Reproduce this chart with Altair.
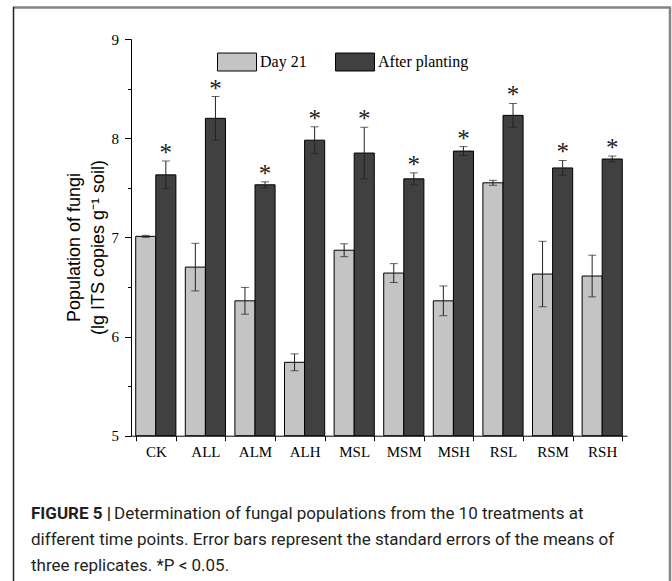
import altair as alt
import pandas as pd

# Treatments and measurements (lg ITS copies per g soil)
treatments = ["CK", "ALL", "ALM", "ALH", "MSL", "MSM", "MSH", "RSL", "RSM", "RSH"]
day21_mean = [7.01, 6.70, 6.36, 5.74, 6.87, 6.64, 6.36, 7.55, 6.63, 6.61]
day21_se = [0.01, 0.24, 0.135, 0.085, 0.065, 0.095, 0.15, 0.025, 0.33, 0.21]
after_mean = [7.63, 8.20, 7.53, 7.98, 7.85, 7.59, 7.87, 8.23, 7.70, 7.79]
after_se = [0.14, 0.22, 0.03, 0.135, 0.26, 0.06, 0.045, 0.12, 0.075, 0.03]
significant = ["*"] * 10
series_names = ["Day 21", "After planting"]
series_colors = ["#c4c4c4", "#404040"]

rows = []
for i, t in enumerate(treatments):
    rows.append({"treatment": t, "series": series_names[0], "mean": day21_mean[i],
                 "lo": day21_mean[i] - day21_se[i], "hi": day21_mean[i] + day21_se[i], "sig": ""})
    rows.append({"treatment": t, "series": series_names[1], "mean": after_mean[i],
                 "lo": after_mean[i] - after_se[i], "hi": after_mean[i] + after_se[i], "sig": significant[i]})
df = pd.DataFrame(rows)

W, H = 496, 396.7
PAD_L, PAD_T = 131, 39
SERIF = "Liberation Serif"

x_enc = alt.X("treatment:N", sort=treatments,
              scale=alt.Scale(paddingInner=0.19, paddingOuter=0.095),
              axis=alt.Axis(title=None, labelAngle=0, tickBand="extent", tickSize=5,
                            labelPadding=4, labelFontSize=15, labelFont=SERIF))
xoff = alt.XOffset("series:N", sort=series_names)
y_scale = alt.Scale(domain=[5, 9], nice=False, zero=False)

bars = alt.Chart(df).mark_bar(stroke="black", strokeWidth=1).encode(
    x=x_enc,
    xOffset=xoff,
    y=alt.Y("mean:Q", scale=y_scale,
            axis=alt.Axis(values=[5, 5.5, 6, 6.5, 7, 7.5, 8, 8.5, 9],
                          labelExpr="datum.value % 1 ? '' : format(datum.value, 'd')",
                          tickSize={"expr": "datum.value % 1 ? 3.5 : 6.5"},
                          labelPadding=6, labelFontSize=15, labelFont=SERIF,
                          title=["Population of fungi", "(lg ITS copies g\u207b\u00b9 soil)"],
                          titleFont="Liberation Sans", titleFontSize=18,
                          titleFontWeight="normal", titleLineHeight=24,
                          titlePadding=4, titleY=208)),
    y2=alt.datum(5),
    color=alt.Color("series:N", sort=series_names,
                    scale=alt.Scale(domain=series_names, range=series_colors),
                    legend=alt.Legend(title=None, orient="none", direction="horizontal",
                                      legendX=86, legendY=3, padding=0,
                                      symbolType="M-1,-0.46H1V0.46H-1Z", symbolSize=1521,
                                      symbolStrokeColor="black", symbolStrokeWidth=1,
                                      symbolOpacity=1, labelFont=SERIF,
                                      labelFontSize=16, labelColor="black",
                                      labelOffset=3, columnPadding=26)),
)

err = alt.Chart(df).mark_rule(color="#222", strokeWidth=1).encode(
    x=alt.X("treatment:N", sort=treatments), xOffset=xoff,
    y="lo:Q", y2="hi:Q")
cap_lo = alt.Chart(df).mark_tick(color="#222", thickness=1, size=8).encode(
    x=alt.X("treatment:N", sort=treatments), xOffset=xoff, y="lo:Q")
cap_hi = alt.Chart(df).mark_tick(color="#222", thickness=1, size=8).encode(
    x=alt.X("treatment:N", sort=treatments), xOffset=xoff, y="hi:Q")
stars = alt.Chart(df).mark_text(font=SERIF, fontSize=25, baseline="alphabetic",
                                dy=0, color="#222").encode(
    x=alt.X("treatment:N", sort=treatments), xOffset=xoff, y="hi:Q", text="sig:N")

# Figure frame around plot and caption
frame_df = pd.DataFrame({"k": [0]})
frame_top = alt.Chart(frame_df).mark_rule(color="#858585", strokeWidth=2.5).encode(
    x=alt.value(13 - PAD_L), x2=alt.value(671 - PAD_L), y=alt.value(7.5 - PAD_T))
frame_right = alt.Chart(frame_df).mark_rule(color="#858585", strokeWidth=2.5).encode(
    x=alt.value(670 - PAD_L), y=alt.value(7 - PAD_T), y2=alt.value(600 - PAD_T))
frame_left = alt.Chart(frame_df).mark_rule(color="#222", strokeWidth=1.5).encode(
    x=alt.value(13.5 - PAD_L), y=alt.value(7 - PAD_T), y2=alt.value(600 - PAD_T))

cap_font = "Roboto"
cap_color = "#231f20"
cap_size = 17
base1, step = 519, 26
cap_bold = alt.Chart(frame_df).mark_text(align="left", baseline="alphabetic", font=cap_font,
                                         fontSize=cap_size, fontWeight="bold", color=cap_color).encode(
    x=alt.value(31 - PAD_L), y=alt.value(base1 - PAD_T), text=alt.value("FIGURE 5 |"))
cap_l1 = alt.Chart(frame_df).mark_text(align="left", baseline="alphabetic", font=cap_font,
                                       fontSize=cap_size, color=cap_color).encode(
    x=alt.value(114 - PAD_L), y=alt.value(base1 - PAD_T),
    text=alt.value("Determination of fungal populations from the 10 treatments at"))
cap_l2 = alt.Chart(frame_df).mark_text(align="left", baseline="alphabetic", font=cap_font,
                                       fontSize=cap_size, color=cap_color).encode(
    x=alt.value(31 - PAD_L), y=alt.value(base1 + step - PAD_T),
    text=alt.value("different time points. Error bars represent the standard errors of the means of"))
cap_l3 = alt.Chart(frame_df).mark_text(align="left", baseline="alphabetic", font=cap_font,
                                       fontSize=cap_size, color=cap_color).encode(
    x=alt.value(31 - PAD_L), y=alt.value(base1 + 2 * step - PAD_T),
    text=alt.value("three replicates. *P < 0.05."))

chart = alt.layer(
    bars, err, cap_lo, cap_hi, stars,
    frame_top, frame_right, frame_left, cap_bold, cap_l1, cap_l2, cap_l3,
).properties(
    width=W, height=H,
    autosize=alt.AutoSizeParams(type="none"),
    padding={"left": PAD_L, "top": PAD_T, "right": 672 - PAD_L - W, "bottom": 581 - PAD_T - H},
    background="white",
).configure_view(stroke=None).configure_axis(
    labelFont=SERIF, labelColor="black", domainColor="black",
    tickColor="black", domainWidth=1, tickWidth=1, grid=False, titleColor="black",
)

chart.save("out.html", embed_options={"renderer": "svg", "actions": False})
